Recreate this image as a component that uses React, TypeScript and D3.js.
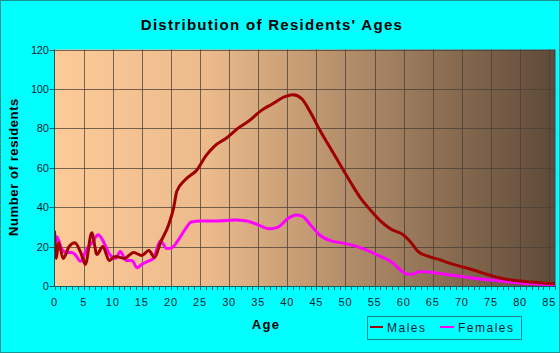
import { scaleLinear, line, curveMonotoneX, range } from 'd3';

const maleAges = [0, 0.3, 0.7, 1.5, 2.5, 3.5, 4.5, 5.3, 6.4, 7.3, 8.3, 9.4, 10.5, 12, 13.6, 15, 16.2, 17.2, 18.2, 19.6, 20.5, 21, 22.5, 24.5, 26, 27.5, 29.5, 31.5, 33.5, 35.5, 37.5, 39.5, 41, 42.5, 44, 45.6, 47.4, 49.4, 51, 52.5, 54.3, 56, 57.7, 59.9, 61, 62.5, 64.5, 66, 68, 70, 72, 74, 76, 78, 80, 82, 84, 86.5];
const maleCounts = [28, 14, 22, 14, 20, 22, 17, 11, 27, 16, 20, 13, 15, 14, 17, 15.5, 18, 14.5, 22, 31, 40, 48, 54, 59, 66, 71, 75, 80, 84, 89, 92.5, 96, 97, 95, 88, 79, 70, 60, 52, 45, 38.5, 33, 29, 26, 23, 17.4, 14.8, 13.5, 11.5, 9.8, 8.1, 6.2, 4.4, 3.2, 2.5, 2, 1.5, 1];

const femaleAges = [0, 0.4, 1.2, 2, 3, 3.8, 4.4, 5.6, 6.5, 7.5, 8.5, 9.5, 10.5, 11.3, 12.3, 13.3, 14.2, 15, 16, 17, 18.2, 19.3, 20.2, 21.2, 22.5, 23.5, 25, 28, 31, 33, 35, 37, 38.5, 40, 41.5, 42.5, 44, 45.5, 47.4, 49, 50.8, 53, 56, 58, 59.7, 60.6, 61.5, 62.8, 65, 67, 70, 73, 75, 77.8, 80, 83, 86.5];
const femaleCounts = [17, 25, 19, 17, 17, 15, 12.5, 19, 22, 26, 22, 16, 14, 17.5, 13, 13, 9.2, 11, 12.5, 14, 23, 19, 19.5, 23, 29, 32.5, 33, 33, 33.5, 33, 31, 29, 30, 34, 36, 35.5, 31, 26, 23, 22, 21, 19, 15, 12, 7.5, 6, 6, 7.3, 6.8, 6, 4.8, 3.5, 3, 2.2, 1.5, 1, 0.5];

const xTicks = [0, 5, 10, 15, 20, 25, 30, 35, 40, 45, 50, 55, 60, 65, 70, 75, 80, 85];
const yTicks = [0, 20, 40, 60, 80, 100, 120];

const W = 560;
const H = 353;
const left = 54.5;
const right = 555;
const top = 49.5;
const bottom = 286;

export default function App() {
  const x = scaleLinear().domain([0, 86]).range([left, right]);
  const y = scaleLinear().domain([0, 120]).range([bottom, top]);

  const path = (ages: number[], counts: number[]) =>
    line<number>()
      .x((_, i) => x(ages[i]))
      .y((d) => y(d))
      .curve(curveMonotoneX)(counts) || '';

  const font = 'Arial, "Liberation Sans", sans-serif';

  return (
    <svg width={W} height={H} style={{ position: 'fixed', left: 0, top: 0 }} fontFamily={font}>
      <defs>
        <linearGradient id="bg" x1="0" x2="1" y1="0" y2="0">
          <stop offset="0" stopColor="#fdca98" />
          <stop offset="0.3" stopColor="#ecbb8c" />
          <stop offset="0.6" stopColor="#b08b68" />
          <stop offset="1" stopColor="#5e4a39" />
        </linearGradient>
        <clipPath id="plot">
          <rect x={left} y={top - 2} width={right - left} height={bottom - top + 2} />
        </clipPath>
      </defs>
      <rect x={0} y={0} width={W} height={H} fill="#00ffff" />
      <rect x={0.5} y={0.5} width={W - 1} height={H - 1} fill="none" stroke="#1a9393" />

      <text x={272} y={30} textAnchor="middle" fontSize={15} fontWeight="bold" letterSpacing={1.3} fill="#000">
        Distribution of Residents' Ages
      </text>

      <rect x={left} y={top} width={right - left} height={bottom - top} fill="url(#bg)" />

      {/* grid */}
      {xTicks.slice(1).map((t) => (
        <line key={'gx' + t} x1={Math.round(x(t)) + 0.5} x2={Math.round(x(t)) + 0.5} y1={top} y2={bottom} stroke="#4a3f36" strokeOpacity={0.75} />
      ))}
      {yTicks.slice(1).map((t) => (
        <line key={'gy' + t} x1={left} x2={right} y1={Math.round(y(t)) + 0.5} y2={Math.round(y(t)) + 0.5} stroke="#4a3f36" strokeOpacity={0.75} />
      ))}
      <line x1={right} x2={right} y1={top} y2={bottom} stroke="#4a3f36" />

      <g clipPath="url(#plot)" fill="none" strokeWidth={3} strokeLinejoin="round">
        <path d={path(femaleAges, femaleCounts)} stroke="#ff00ff" />
        <path d={path(maleAges, maleCounts)} stroke="#a00000" />
      </g>

      {/* axes */}
      <line x1={left} x2={left} y1={top} y2={bottom} stroke="#0b5e5e" />
      <line x1={left} x2={right} y1={bottom + 0.5} y2={bottom + 0.5} stroke="#0b5e5e" />
      {yTicks.map((t) => (
        <g key={'yt' + t}>
          <line x1={left - 5} x2={left} y1={Math.round(y(t)) + 0.5} y2={Math.round(y(t)) + 0.5} stroke="#0b5e5e" />
          <text x={left - 6} y={y(t) + 4} textAnchor="end" fontSize={11} fill="#123" letterSpacing={-0.3}>
            {t}
          </text>
        </g>
      ))}
      {range(0, 87).map((t) => (
        <line key={'xt' + t} x1={Math.round(x(t)) + 0.5} x2={Math.round(x(t)) + 0.5} y1={bottom} y2={bottom + 4} stroke="#0b5e5e" />
      ))}
      {xTicks.map((t) => (
        <text key={'xl' + t} x={x(t)} y={306} textAnchor="middle" fontSize={11} fill="#123" letterSpacing={0.8}>
          {t}
        </text>
      ))}

      <text x={266} y={329} textAnchor="middle" fontSize={13} fontWeight="bold" letterSpacing={1.3}>
        Age
      </text>
      <text transform="translate(18,167) rotate(-90)" textAnchor="middle" fontSize={13} fontWeight="bold" letterSpacing={0.6}>
        Number of residents
      </text>

      {/* legend */}
      <rect x={367.5} y={316.5} width={154} height={23} fill="none" stroke="#1a8080" />
      <line x1={370} x2={383} y1={327} y2={327} stroke="#a00000" strokeWidth={2} />
      <text x={387} y={332} fontSize={12} letterSpacing={1.5} fill="#123">Males</text>
      <line x1={440} x2={454} y1={327} y2={327} stroke="#ff00ff" strokeWidth={2} />
      <text x={458} y={332} fontSize={12} letterSpacing={1.5} fill="#123">Females</text>
    </svg>
  );
}
